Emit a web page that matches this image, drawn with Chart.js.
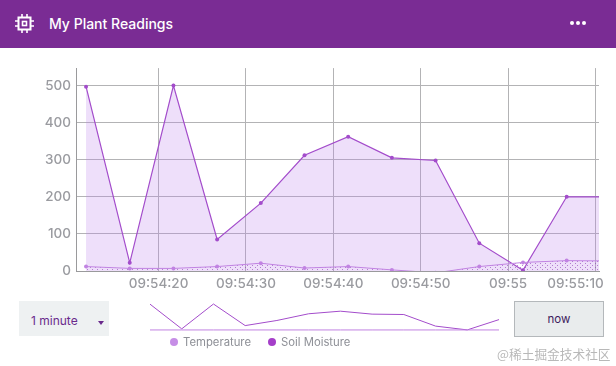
<!DOCTYPE html>
<html>
<head>
<meta charset="utf-8">
<title>My Plant Readings</title>
<script src="https://cdn.jsdelivr.net/npm/chart.js@4"></script>
<style>
    html, body { margin: 0; padding: 0; background: #fff; }
    body { position: relative; width: 616px; height: 366px; overflow: hidden; font-family: Inter, sans-serif; }
    .cabecera { position: absolute; left: 0; top: 0; width: 616px; height: 48px; background: #7a2c94; }
    .cabecera svg { position: absolute; }
    .titulo { position: absolute; left: 49px; top: 14px; color: #fff; font-size: 14px; font-weight: 500; line-height: 19px; }
    #graficoPrincipal { position: absolute; left: 0; top: 55px; }
    #graficoResumen { position: absolute; left: 146px; top: 300px; }
    .rango { position: absolute; left: 19px; top: 301px; width: 90px; height: 35px; background: #eef1f2; color: #6a2a8c; font-size: 12px; line-height: 39px; text-indent: 12px; }
    .rango i { position: absolute; left: 79px; top: 20px; border: 3.5px solid transparent; border-top: 4px solid #6a2a8c; border-bottom: 0; }
    .ahora { position: absolute; left: 514px; top: 301px; width: 88px; height: 34px; border: 1px solid #b4b8bb; background: #e9eced; color: #3d1a5c; font-size: 11.5px; line-height: 34px; text-align: center; }
    .leyenda { position: absolute; top: 334px; height: 16px; color: #8d8f96; font-size: 11.3px; line-height: 16px; white-space: nowrap; }
    .leyenda b { position: absolute; left: -13px; top: 4px; width: 8px; height: 8px; border-radius: 50%; }
    .marca { position: absolute; left: 497px; top: 345px; color: #b8b8b8; font-size: 12.7px; line-height: 18px; font-family: "Noto Sans CJK SC", sans-serif; white-space: nowrap; }
</style>
</head>
<body>
<div class="cabecera">
    <svg style="left:15px;top:14px" width="19" height="19" viewBox="0 0 19 19" fill="none" stroke="#fff">
        <rect x="3.5" y="3.5" width="12" height="12" stroke-width="2"/>
        <rect x="7.5" y="7.5" width="4" height="4" stroke-width="1.6"/>
        <path d="M7 0v3M12 0v3M7 16v3M12 16v3M0 7h3M0 12h3M16 7h3M16 12h3" stroke-width="1.6"/>
    </svg>
    <div class="titulo">My Plant Readings</div>
    <svg style="left:569px;top:19px" width="18" height="8" viewBox="0 0 18 8" fill="#fff">
        <circle cx="3" cy="4" r="2"/><circle cx="9" cy="4" r="2"/><circle cx="15" cy="4" r="2"/>
    </svg>
</div>
<canvas id="graficoPrincipal" width="616" height="246"></canvas>
<div class="rango">1 minute<i></i></div>
<canvas id="graficoResumen" width="357" height="34"></canvas>
<div class="ahora">now</div>
<div class="leyenda" id="leyendaTemperatura" style="left:183px"><b style="background:#c68ee6"></b></div>
<div class="leyenda" id="leyendaHumedad" style="left:281px"><b style="background:#a53fc9"></b></div>
<div class="marca">@稀土掘金技术社区</div>

<script>
// Seconds after 09:54:00 for every reading
const segundos = [11.7, 16.7, 21.7, 26.7, 31.7, 36.7, 41.7, 46.7, 51.7, 56.7, 61.7, 66.7, 71.7];
const temperatura = [12, 7, 7, 12, 21, 8, 12, 3, -5, 12, 23, 28, 27];
const humedadSuelo = [497, 22, 500, 85, 183, 312, 362, 305, 298, 75, 2, 200, 200];
const temperaturaResumen = [1, 1, 1, 1, 1, 1, 1, 1, 1, 1, 1, 1];

const segundosEjeX = [20, 30, 40, 50, 60, 70];
const etiquetasEjeX = ['09:54:20', '09:54:30', '09:54:40', '09:54:50', '09:55', '09:55:10'];
const valoresEjeY = [0, 100, 200, 300, 400, 500];
const nombresSeries = ['Temperature', 'Soil Moisture'];

const COLOR_LINEA = '#a34ccb';
const COLOR_TEMPERATURA = '#c183e2';
const COLOR_TEXTO = '#9a9ba0';
const COLOR_REJILLA = '#b3b3b5';
const FUENTE_EJES = { family: 'Inter', size: 13.5, weight: '500' };

document.getElementById('leyendaTemperatura').append(nombresSeries[0]);
document.getElementById('leyendaHumedad').append(nombresSeries[1]);

/**
 * Patron de puntos para el relleno de la temperatura.
 */
function crearPatronPuntos() {
    const lienzo = document.createElement('canvas');
    lienzo.width = 5;
    lienzo.height = 4;
    const ctx = lienzo.getContext('2d');
    ctx.fillStyle = 'rgba(140, 60, 180, 0.6)';
    ctx.fillRect(0, 0, 1, 1);
    ctx.fillRect(2, 2, 1, 1);
    return ctx.createPattern(lienzo, 'repeat');
}

function unirPuntos(valores) {
    return valores.map((y, i) => ({ x: segundos[i], y: y }));
}

// The last label is pushed left so that it stays inside the card
const ultimaEtiquetaX = {
    id: 'ultimaEtiquetaX',
    afterDraw(chart) {
        const ctx = chart.ctx;
        const i = etiquetasEjeX.length - 1;
        ctx.save();
        ctx.font = '500 13.5px Inter';
        ctx.fillStyle = COLOR_TEXTO;
        ctx.textAlign = 'center';
        ctx.textBaseline = 'middle';
        ctx.fillText(etiquetasEjeX[i], chart.scales.x.getPixelForValue(segundosEjeX[i]) - 20, chart.scales.x.top + 13);
        ctx.restore();
    }
};

new Chart(document.getElementById('graficoPrincipal'), {
    type: 'line',
    data: {
        datasets: [
            {
                label: nombresSeries[0],
                data: unirPuntos(temperatura),
                borderColor: COLOR_TEMPERATURA,
                borderWidth: 1,
                backgroundColor: crearPatronPuntos(),
                fill: 'origin',
                pointRadius: 2,
                pointBackgroundColor: COLOR_TEMPERATURA,
                pointBorderWidth: 0,
                tension: 0
            },
            {
                label: nombresSeries[1],
                data: unirPuntos(humedadSuelo),
                borderColor: COLOR_LINEA,
                borderWidth: 1.2,
                backgroundColor: 'rgba(190, 130, 235, 0.26)',
                fill: 'origin',
                pointRadius: 2,
                pointBackgroundColor: COLOR_LINEA,
                pointBorderWidth: 0,
                tension: 0
            }
        ]
    },
    options: {
        responsive: false,
        animation: false,
        layout: { padding: { top: 3, right: 17, left: 0, bottom: 0 } },
        plugins: { legend: { display: false }, tooltip: { enabled: false } },
        scales: {
            x: {
                type: 'linear',
                min: 10.55,
                max: 70.4,
                afterBuildTicks: (eje) => { eje.ticks = segundosEjeX.map((v) => ({ value: v })); },
                afterFit: (eje) => { eje.height = 30; },
                grid: { color: COLOR_REJILLA, drawTicks: false },
                border: { color: '#9a9a9c' },
                ticks: {
                    color: COLOR_TEXTO,
                    font: FUENTE_EJES,
                    padding: 5,
                    maxRotation: 0,
                    autoSkip: false,
                    callback: (v, i) => (i === etiquetasEjeX.length - 1 ? '' : etiquetasEjeX[i])
                }
            },
            y: {
                min: 0,
                max: 547,
                afterBuildTicks: (eje) => { eje.ticks = valoresEjeY.map((v) => ({ value: v })); },
                afterFit: (eje) => { eje.width = 76; },
                grid: { color: COLOR_REJILLA, drawTicks: false },
                border: { color: '#9a9a9c' },
                ticks: { color: COLOR_TEXTO, font: FUENTE_EJES, padding: 5 }
            }
        }
    },
    plugins: [ultimaEtiquetaX]
});

new Chart(document.getElementById('graficoResumen'), {
    type: 'line',
    data: {
        datasets: [
            {
                data: unirPuntos(temperaturaResumen),
                borderColor: COLOR_TEMPERATURA,
                borderWidth: 1,
                pointRadius: 0,
                clip: false
            },
            {
                data: unirPuntos(humedadSuelo.slice(0, 12)),
                borderColor: COLOR_LINEA,
                borderWidth: 1,
                pointRadius: 0,
                clip: false
            }
        ]
    },
    options: {
        responsive: false,
        animation: false,
        layout: { padding: 4 },
        plugins: { legend: { display: false }, tooltip: { enabled: false } },
        scales: {
            x: { type: 'linear', display: false, min: segundos[0], max: segundos[11] },
            y: { display: false, min: 0, max: 500 }
        }
    }
});
</script>
</body>
</html>
